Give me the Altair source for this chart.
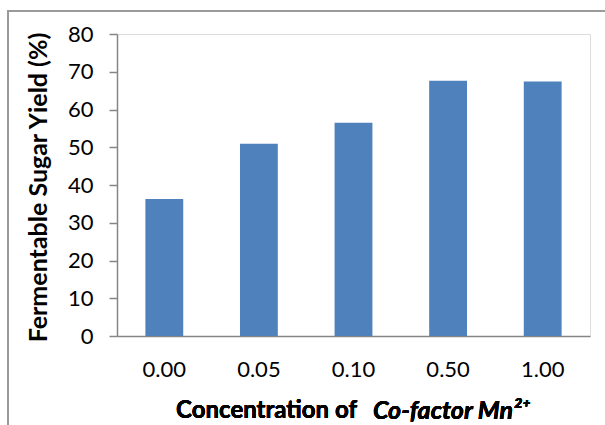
import altair as alt
import pandas as pd

categories = ["0.00", "0.05", "0.10", "0.50", "1.00"]
yields = [36.3, 50.9, 56.5, 67.6, 67.4]

df = pd.DataFrame({"conc": categories, "yield": yields})

FONT = "Lato"
AXIS_GRAY = "#868686"

bars = alt.Chart(df).mark_bar(color="#4F81BD").encode(
    x=alt.X("conc:N", sort=categories,
            scale=alt.Scale(paddingInner=0.6, paddingOuter=0.3),
            axis=alt.Axis(title=None, labelAngle=0, ticks=False, labelPadding=23,
                          labelFontSize=22, labelFont=FONT, labelColor="#000000",
                          domainColor=AXIS_GRAY, domainWidth=1.5)),
    y=alt.Y("yield:Q", scale=alt.Scale(domain=[0, 80]),
            axis=alt.Axis(values=[0, 10, 20, 30, 40, 50, 60, 70, 80], grid=False,
                          title="Fermentable Sugar Yield (%)", titleFont=FONT,
                          titleFontSize=25, titleFontWeight="bold", titleColor="#000000",
                          titleX=-79, titleY=153, titleBaseline="middle", titleAngle=270,
                          labelFontSize=22, labelFont=FONT, labelColor="#000000",
                          labelPadding=16, tickSize=8, tickColor=AXIS_GRAY,
                          domainColor=AXIS_GRAY, domainWidth=1.5, tickWidth=1.5)),
)

frame = alt.Chart(df).mark_rect(fill=None, stroke="#9A9A9A", strokeWidth=2).encode(
    x=alt.value(-109), x2=alt.value(620), y=alt.value(-23), y2=alt.value(420)
)

title_a = alt.Chart(df).mark_text(
    text="Concentration of ", font=FONT, fontSize=24, fontWeight="bold",
    align="right", baseline="middle", color="#000000"
).encode(x=alt.value(240), y=alt.value(377))

title_b = alt.Chart(df).mark_text(
    text="Co-factor Mn²⁺", font=FONT, fontSize=25, fontWeight="bold",
    fontStyle="italic", align="left", baseline="middle", color="#000000"
).encode(x=alt.value(256), y=alt.value(377))

chart = alt.layer(frame, bars, title_a, title_b).properties(
    width=473, height=302,
    autosize=alt.AutoSizeParams(type="none"),
    padding={"left": 117, "top": 34, "right": 15, "bottom": 89},
).configure_view(stroke=None).configure(background="white")

chart.save("out.html", embed_options={"renderer": "svg", "actions": False})
